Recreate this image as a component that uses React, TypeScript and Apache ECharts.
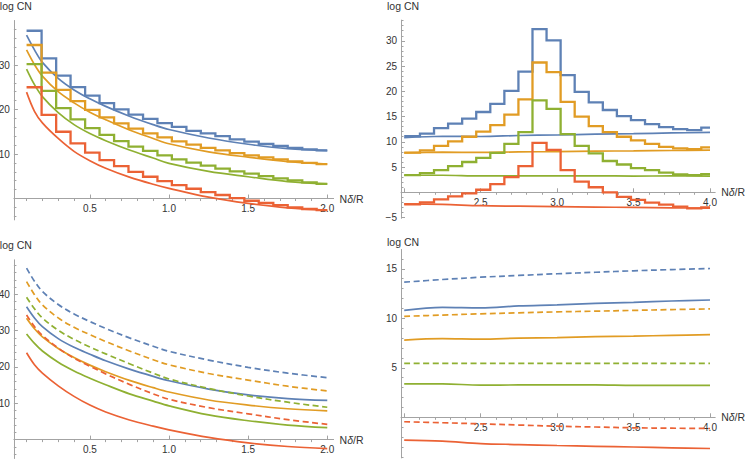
import React, { useEffect, useRef } from "react";
import * as echarts from "echarts";

const FONT = '"Liberation Sans", Arial, Helvetica, sans-serif';
const AXIS_COLOR = "#a3a3a3";
const LABEL_COLOR = "#333333";
const BLUE = "#5E81B5";
const ORANGE = "#E19C24";
const GREEN = "#8FB032";
const RED = "#EB6235";

// ---------- left panels: smooth curves ----------
const X_LEFT = [0.1, 0.15, 0.2, 0.3, 0.4, 0.5, 0.6, 0.75, 0.9, 1.0, 1.25, 1.5, 1.75, 2.0];
const TL_BLUE = [36.7, 33.4, 30.6, 27.0, 24.4, 22.4, 20.7, 18.5, 16.6, 15.5, 13.6, 12.2, 11.2, 10.75];
const TL_ORANGE = [33.4, 30.1, 27.5, 24.0, 21.5, 19.4, 17.7, 15.4, 13.5, 12.3, 10.5, 9.3, 8.3, 7.75];
const TL_GREEN = [29.1, 25.6, 22.9, 19.3, 16.6, 14.6, 13.0, 10.9, 9.1, 7.9, 6.1, 4.9, 3.8, 3.3];
const TL_RED = [23.9, 19.6, 17.0, 13.5, 10.6, 8.5, 6.8, 4.8, 3.2, 2.3, 0.3, -1.1, -2.1, -2.6];

// ---------- top-left: step curves ----------
const TL_STEP_X = [0.1, 0.195, 0.287, 0.378, 0.47, 0.561, 0.653, 0.744, 0.836, 0.927, 1.018, 1.11, 1.201, 1.293, 1.384, 1.476, 1.567, 1.659, 1.75, 1.842, 1.933];
const TL_STEP_END = 2.0;
const TL_BLUE_S = [37.7, 31.5, 27.6, 25.05, 23.1, 21.45, 20.05, 18.85, 17.9, 16.95, 16.1, 15.2, 14.65, 14.0, 13.3, 12.8, 12.25, 11.8, 11.4, 11.05, 10.8];
const TL_ORANGE_S = [34.5, 28.3, 24.4, 21.9, 19.9, 18.25, 16.9, 15.7, 14.65, 13.75, 12.85, 12.1, 11.4, 10.8, 10.2, 9.7, 9.25, 8.8, 8.35, 8.0, 7.75];
const TL_GREEN_S = [30.2, 24.2, 20.3, 17.8, 15.8, 14.3, 12.9, 11.65, 10.7, 9.7, 8.8, 8.05, 7.4, 6.7, 6.1, 5.6, 5.05, 4.55, 4.1, 3.65, 3.3];
const TL_RED_S = [25.0, 18.8, 15.0, 12.4, 10.3, 8.65, 7.3, 6.0, 4.9, 3.9, 3.0, 2.2, 1.45, 0.8, 0.1, -0.5, -1.0, -1.5, -2.0, -2.35, -2.6];

// ---------- bottom-left ----------
const BL_BLUE = [36.6, 33.5, 31.1, 27.8, 25.4, 23.5, 21.7, 19.4, 17.4, 16.2, 13.9, 12.3, 11.3, 10.8];
const BL_ORANGE = [33.4, 30.5, 28.3, 25.1, 22.6, 20.5, 18.7, 16.3, 14.3, 13.1, 10.9, 9.5, 8.5, 7.9];
const BL_GREEN = [29.1, 26.5, 24.4, 21.3, 18.9, 16.9, 15.1, 12.6, 10.6, 9.3, 6.8, 5.2, 4.0, 3.3];
const BL_RED = [23.9, 20.6, 18.3, 14.8, 11.9, 9.5, 7.6, 5.4, 3.7, 2.7, 0.6, -0.9, -1.9, -2.5];
const BL_BLUE_D = [47.2, 43.6, 40.8, 37.2, 34.6, 32.5, 30.6, 28.0, 25.7, 24.3, 21.9, 19.9, 18.3, 17.05];
const BL_ORANGE_D = [43.5, 39.9, 37.1, 33.5, 30.9, 28.9, 27.0, 24.4, 22.0, 20.6, 18.2, 16.4, 14.7, 13.4];
const BL_GREEN_D = [39.2, 36.0, 33.5, 30.1, 27.6, 25.5, 23.6, 20.9, 18.3, 16.7, 14.1, 12.0, 10.3, 8.9];
const BL_RED_D = [34.3, 31.1, 28.7, 25.2, 22.4, 20.2, 18.1, 15.2, 12.6, 11.1, 8.8, 7.1, 5.5, 4.2];

// ---------- right panels: smooth curves ----------
const X_RIGHT = [2.0, 2.25, 2.5, 2.75, 3.0, 3.25, 3.5, 3.75, 4.0];
const R_BLUE = [10.8, 11.1, 11.05, 11.25, 11.35, 11.5, 11.6, 11.75, 11.85];
const R_ORANGE = [7.8, 7.95, 7.9, 8.0, 8.05, 8.15, 8.2, 8.28, 8.35];
const R_GREEN = [3.38, 3.38, 3.25, 3.27, 3.27, 3.27, 3.22, 3.24, 3.22];
const R_RED = [-2.3, -2.4, -2.65, -2.75, -2.85, -2.93, -3.0, -3.08, -3.15];
const R_BLUE_D = [13.65, 13.92, 14.15, 14.33, 14.5, 14.65, 14.8, 14.92, 15.03];
const R_ORANGE_D = [10.2, 10.33, 10.45, 10.55, 10.65, 10.72, 10.8, 10.88, 10.95];
const R_GREEN_D = [5.45, 5.45, 5.45, 5.45, 5.45, 5.45, 5.45, 5.45, 5.45];
const R_RED_D = [-0.45, -0.55, -0.66, -0.78, -0.9, -0.98, -1.06, -1.1, -1.13];

// ---------- top-right: step curves ----------
const TR_STEP_X = [2.0, 2.103, 2.195, 2.287, 2.379, 2.471, 2.563, 2.655, 2.747, 2.839, 2.931, 3.023, 3.115, 3.207, 3.299, 3.391, 3.483, 3.575, 3.667, 3.759, 3.851, 3.943];
const TR_STEP_END = 4.0;
const TR_BLUE_S = [11.1, 11.6, 12.7, 13.6, 14.6, 15.9, 17.5, 20.1, 23.9, 32.3, 30.1, 23.2, 19.9, 17.8, 16.3, 15.1, 14.3, 13.5, 12.9, 12.5, 12.3, 12.8];
const TR_ORANGE_S = [7.85, 8.3, 9.2, 10.1, 11.0, 12.0, 13.3, 15.4, 18.4, 25.7, 23.8, 17.9, 15.0, 13.1, 11.9, 11.0, 10.3, 9.6, 9.0, 8.7, 8.55, 8.9];
const TR_GREEN_S = [3.4, 3.8, 4.4, 5.2, 6.0, 6.8, 7.8, 9.6, 11.9, 18.2, 16.5, 11.5, 9.2, 7.7, 6.2, 5.5, 4.8, 4.4, 3.9, 3.55, 3.4, 3.6];
const TR_RED_S = [-2.4, -2.0, -1.4, -0.8, -0.2, 0.5, 1.6, 3.0, 5.2, 9.8, 8.4, 4.4, 2.1, 1.0, 0.0, -0.9, -1.5, -2.05, -2.45, -2.85, -3.2, -3.0];

// ---------- tick labels ----------
const LEFT_X_LABELS = [0.5, 1.0, 1.5, 2.0];
const RIGHT_X_TICKS = [2.0, 2.5, 3.0, 3.5, 4.0];
const RIGHT_X_LABELS = [2.5, 3.0, 3.5, 4.0];
const TL_Y_LABELS = [10, 20, 30];
const TR_Y_LABELS = [-5, 5, 10, 15, 20, 25, 30];
const BL_Y_LABELS = [10, 20, 30, 40];
const BR_Y_LABELS = [5, 10, 15];

function minorTicks(from: number, to: number, step: number, majorEvery: number) {
  const out: number[] = [];
  const k0 = Math.round(from / step);
  const k1 = Math.round(to / step);
  for (let k = k0; k <= k1; k++) {
    const v = +(k * step).toFixed(4);
    if (Math.abs(v) < 1e-9) continue;
    const r = v / majorEvery;
    if (Math.abs(r - Math.round(r)) < 1e-6) continue;
    out.push(v);
  }
  return out;
}

const PANELS = [
  { grid: { left: 13.9, top: 20.5, width: 319.7, height: 199.4 }, x: [0.02, 2.04], y: [-4.8, 40],
    xMajor: LEFT_X_LABELS, xLabels: LEFT_X_LABELS, xMinor: minorTicks(0.1, 1.9, 0.1, 0.5),
    yMajor: TL_Y_LABELS, yMinor: minorTicks(-4, 38, 2, 10), nameGap: 9 },
  { grid: { left: 401, top: 20.1, width: 314.2, height: 198.2 }, x: [1.979, 4.034], y: [-5.15, 34.1],
    xMajor: RIGHT_X_TICKS, xLabels: RIGHT_X_LABELS, xMinor: minorTicks(2.1, 3.9, 0.1, 0.5),
    yMajor: TR_Y_LABELS, yMinor: minorTicks(-5, 34, 1, 5), nameGap: 9 },
  { grid: { left: 13.9, top: 259.8, width: 319.7, height: 198.7 }, x: [0.02, 2.04], y: [-5.2, 49.5],
    xMajor: LEFT_X_LABELS, xLabels: LEFT_X_LABELS, xMinor: minorTicks(0.1, 1.9, 0.1, 0.5),
    yMajor: BL_Y_LABELS, yMinor: minorTicks(-4, 48, 2, 10), nameGap: 9 },
  { grid: { left: 401, top: 249.5, width: 314.2, height: 208.4 }, x: [1.979, 4.034], y: [-4.1, 16.95],
    xMajor: RIGHT_X_TICKS, xLabels: RIGHT_X_LABELS, xMinor: minorTicks(2.1, 3.9, 0.1, 0.5),
    yMajor: BR_Y_LABELS, yMinor: minorTicks(-4, 16, 1, 5), nameGap: 2 },
];

function fmtY(v: number) {
  return v < 0 ? "\u2212" + Math.abs(v) : String(v);
}

function buildOption() {
  const grids: any[] = [];
  const xAxes: any[] = [];
  const yAxes: any[] = [];
  PANELS.forEach((p, gi) => {
    grids.push({ ...p.grid, containLabel: false, outerBoundsMode: "none" });
    // labels of the on-zero x axis are laid out from the grid's bottom edge: lift them to the zero line
    const zeroFromBottom = (p.grid.height * (0 - p.y[0])) / (p.y[1] - p.y[0]);
    xAxes.push({
      type: "value", gridIndex: gi, min: p.x[0], max: p.x[1],
      axisLine: { show: true, onZero: true, lineStyle: { color: AXIS_COLOR, width: 1 } },
      axisTick: { show: true, inside: true, length: 4, customValues: p.xMajor, lineStyle: { color: AXIS_COLOR } },
      axisLabel: { show: true, customValues: p.xLabels, formatter: (v: number) => v.toFixed(1), color: LABEL_COLOR, fontSize: 10, fontFamily: FONT, margin: 5 - zeroFromBottom },
      splitLine: { show: false },
      name: "{n|N}{d|\u03b4}{n|/R}", nameLocation: "end", nameGap: 6, nameMoveOverlap: false,
      nameTextStyle: {
        rich: {
          n: { fontFamily: FONT, fontSize: 10.5, color: LABEL_COLOR },
          d: { fontFamily: FONT, fontSize: 10.5, fontStyle: "italic", color: LABEL_COLOR },
        },
      },
    });
    xAxes.push({
      type: "value", gridIndex: gi, min: p.x[0], max: p.x[1],
      axisLine: { show: true, onZero: true, lineStyle: { color: AXIS_COLOR, opacity: 0 } },
      axisTick: { show: true, inside: true, length: 2.5, customValues: p.xMinor, lineStyle: { color: AXIS_COLOR } },
      axisLabel: { show: false }, splitLine: { show: false },
    });
    yAxes.push({
      type: "value", gridIndex: gi, min: p.y[0], max: p.y[1], position: "left",
      axisLine: { show: true, onZero: false, lineStyle: { color: AXIS_COLOR, width: 1 } },
      axisTick: { show: true, inside: true, length: 4, customValues: p.yMajor, lineStyle: { color: AXIS_COLOR } },
      axisLabel: { show: true, customValues: p.yMajor, formatter: fmtY, color: LABEL_COLOR, fontSize: 10, fontFamily: FONT, margin: 4 },
      splitLine: { show: false },
      name: "log CN", nameLocation: "end", nameGap: p.nameGap, nameMoveOverlap: false,
      nameTextStyle: { fontFamily: FONT, fontSize: 10.5, color: LABEL_COLOR, padding: [0, 0, 0, 4] },
    });
    yAxes.push({
      type: "value", gridIndex: gi, min: p.y[0], max: p.y[1], position: "left", offset: 0,
      axisLine: { show: true, onZero: false, lineStyle: { color: AXIS_COLOR, opacity: 0 } },
      axisTick: { show: true, inside: true, length: 2.5, customValues: p.yMinor, lineStyle: { color: AXIS_COLOR } },
      axisLabel: { show: false }, splitLine: { show: false },
    });
  });

  const series: any[] = [];
  const smooth = (gi: number, xs: number[], ys: number[], color: string, dashed = false) => {
    series.push({
      type: "line", xAxisIndex: 2 * gi, yAxisIndex: 2 * gi,
      data: xs.map((x, i) => [x, ys[i]]),
      symbol: "none", showSymbol: false, smooth: 0.35, silent: true,
      lineStyle: { color, width: 1.7, type: dashed ? [6, 3.5] : "solid", cap: "butt" },
      z: 2,
    });
  };
  const steps = (gi: number, xs: number[], end: number, ys: number[], color: string) => {
    const data = xs.map((x, i) => [x, ys[i]]);
    data.push([end, ys[ys.length - 1]]);
    series.push({
      type: "line", xAxisIndex: 2 * gi, yAxisIndex: 2 * gi, data, step: "end",
      symbol: "none", showSymbol: false, silent: true,
      lineStyle: { color, width: 2.3, join: "miter" },
      z: 3,
    });
  };

  // top-left
  smooth(0, X_LEFT, TL_BLUE, BLUE);
  smooth(0, X_LEFT, TL_ORANGE, ORANGE);
  smooth(0, X_LEFT, TL_GREEN, GREEN);
  smooth(0, X_LEFT, TL_RED, RED);
  steps(0, TL_STEP_X, TL_STEP_END, TL_BLUE_S, BLUE);
  steps(0, TL_STEP_X, TL_STEP_END, TL_ORANGE_S, ORANGE);
  steps(0, TL_STEP_X, TL_STEP_END, TL_GREEN_S, GREEN);
  steps(0, TL_STEP_X, TL_STEP_END, TL_RED_S, RED);
  // top-right
  smooth(1, X_RIGHT, R_BLUE, BLUE);
  smooth(1, X_RIGHT, R_ORANGE, ORANGE);
  smooth(1, X_RIGHT, R_GREEN, GREEN);
  smooth(1, X_RIGHT, R_RED, RED);
  steps(1, TR_STEP_X, TR_STEP_END, TR_BLUE_S, BLUE);
  steps(1, TR_STEP_X, TR_STEP_END, TR_ORANGE_S, ORANGE);
  steps(1, TR_STEP_X, TR_STEP_END, TR_GREEN_S, GREEN);
  steps(1, TR_STEP_X, TR_STEP_END, TR_RED_S, RED);
  // bottom-left
  smooth(2, X_LEFT, BL_BLUE, BLUE);
  smooth(2, X_LEFT, BL_ORANGE, ORANGE);
  smooth(2, X_LEFT, BL_GREEN, GREEN);
  smooth(2, X_LEFT, BL_RED, RED);
  smooth(2, X_LEFT, BL_BLUE_D, BLUE, true);
  smooth(2, X_LEFT, BL_ORANGE_D, ORANGE, true);
  smooth(2, X_LEFT, BL_GREEN_D, GREEN, true);
  smooth(2, X_LEFT, BL_RED_D, RED, true);
  // bottom-right
  smooth(3, X_RIGHT, R_BLUE, BLUE);
  smooth(3, X_RIGHT, R_ORANGE, ORANGE);
  smooth(3, X_RIGHT, R_GREEN, GREEN);
  smooth(3, X_RIGHT, R_RED, RED);
  smooth(3, X_RIGHT, R_BLUE_D, BLUE, true);
  smooth(3, X_RIGHT, R_ORANGE_D, ORANGE, true);
  smooth(3, X_RIGHT, R_GREEN_D, GREEN, true);
  smooth(3, X_RIGHT, R_RED_D, RED, true);

  return {
    animation: false,
    backgroundColor: "#ffffff",
    textStyle: { fontFamily: FONT },
    grid: grids,
    xAxis: xAxes,
    yAxis: yAxes,
    series,
  };
}

export default function App() {
  const ref = useRef<HTMLDivElement>(null);
  useEffect(() => {
    if (!ref.current) return;
    const chart = echarts.init(ref.current, undefined, { renderer: "svg" });
    chart.setOption(buildOption());
    return () => chart.dispose();
  }, []);
  return (
    <div
      ref={ref}
      style={{ position: "absolute", left: 0, top: 0, width: 747, height: 462, background: "#fff" }}
    />
  );
}
